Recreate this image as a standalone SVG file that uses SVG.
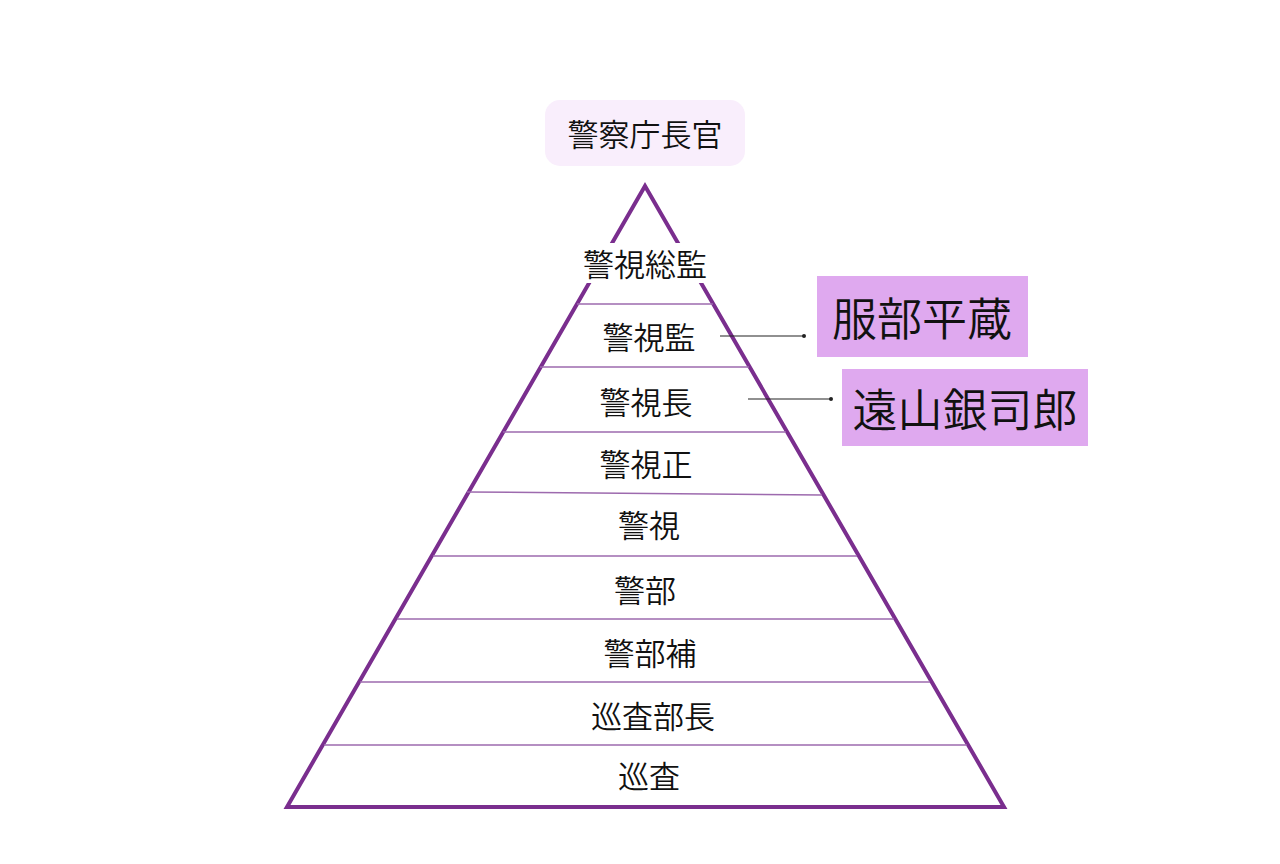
<svg xmlns="http://www.w3.org/2000/svg" width="1280" height="864" viewBox="0 0 1280 864">
<style>
.lbl{font-family:"Noto Sans CJK JP","Noto Sans CJK SC",sans-serif;font-size:31px;font-weight:350;fill:#111;text-anchor:middle;dominant-baseline:central}
.big{font-family:"Noto Sans CJK JP","Noto Sans CJK SC",sans-serif;font-size:45px;font-weight:350;fill:#111;text-anchor:middle;dominant-baseline:central}
.div{stroke:#9d6aae;stroke-width:1.5;fill:none}
.con{stroke:#222;stroke-width:1.2;fill:none}
</style>
<rect width="1280" height="864" fill="#ffffff"/>
<g id="top">
<rect x="545" y="100" width="200" height="66" rx="15" fill="#f9eefc"/>
<text class="lbl" x="645" y="132">警察庁長官</text>
</g>
<g id="pyramid">
<polygon points="645,186 287,807 1004,807" fill="#ffffff" stroke="#7a2e8e" stroke-width="4" stroke-linejoin="miter"/>
<rect x="578" y="243" width="134" height="40" fill="#ffffff"/>
<line class="div" x1="577" y1="304" x2="713" y2="304"/>
<line class="div" x1="540" y1="367" x2="749" y2="367"/>
<line class="div" x1="503" y1="432" x2="786" y2="432"/>
<line class="div" x1="467" y1="492" x2="822" y2="495"/>
<line class="div" x1="433" y1="556" x2="857" y2="556"/>
<line class="div" x1="397" y1="619" x2="894" y2="619"/>
<line class="div" x1="360" y1="682" x2="930" y2="682"/>
<line class="div" x1="324" y1="745" x2="967" y2="745"/>
</g>
<g id="ranks">
<text class="lbl" x="645" y="262">警視総監</text>
<text class="lbl" x="649" y="335">警視監</text>
<text class="lbl" x="646" y="400">警視長</text>
<text class="lbl" x="646" y="462">警視正</text>
<text class="lbl" x="649" y="523">警視</text>
<text class="lbl" x="645" y="588">警部</text>
<text class="lbl" x="650" y="651">警部補</text>
<text class="lbl" x="653" y="714">巡査部長</text>
<text class="lbl" x="649" y="774">巡査</text>
</g>
<g id="connectors">
<line class="con" x1="720" y1="336" x2="804" y2="336"/>
<circle cx="804" cy="336" r="2" fill="#222"/>
<line class="con" x1="748" y1="399" x2="831" y2="399"/>
<circle cx="831" cy="399" r="2" fill="#222"/>
</g>
<g id="hattori">
<rect x="817" y="276" width="211" height="81" fill="#dfa9ef"/>
<text class="big" x="922" y="316">服部平蔵</text>
</g>
<g id="toyama">
<rect x="842" y="369" width="246" height="77" fill="#dfa9ef"/>
<text class="big" x="965" y="407">遠山銀司郎</text>
</g>
</svg>
